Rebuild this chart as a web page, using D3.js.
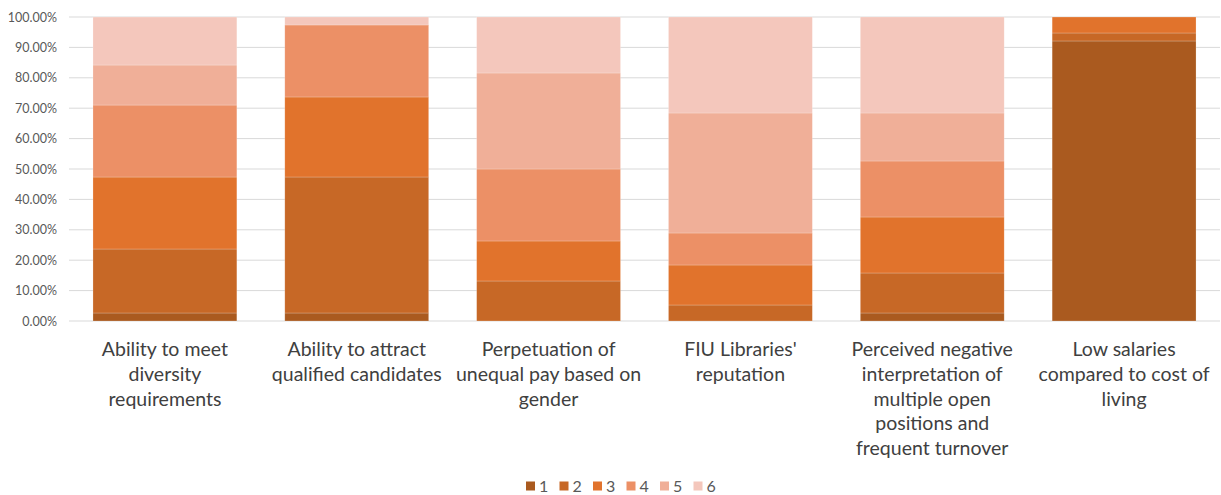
<!DOCTYPE html>
<html>
<head>
<meta charset="utf-8">
<script src="https://cdn.jsdelivr.net/npm/d3@7"></script>
<style>
  html, body { margin: 0; padding: 0; background: #fff; }
  svg { display: block; }
</style>
</head>
<body>
<svg id="chart" width="1221" height="495"></svg>
<script>
// Survey factors (x-axis), each label split into its display lines
const categories = [
  "Ability to meet diversity requirements",
  "Ability to attract qualified candidates",
  "Perpetuation of unequal pay based on gender",
  "FIU Libraries' reputation",
  "Perceived negative interpretation of multiple open positions and frequent turnover",
  "Low salaries compared to cost of living"
];
const categoryLines = [
  ["Ability to meet", "diversity", "requirements"],
  ["Ability to attract", "qualified candidates"],
  ["Perpetuation of", "unequal pay based on", "gender"],
  ["FIU Libraries'", "reputation"],
  ["Perceived negative", "interpretation of", "multiple open", "positions and", "frequent turnover"],
  ["Low salaries", "compared to cost of", "living"]
];

// Share of responses (%) for each rank, one array per rank
const seriesKeys = ["1", "2", "3", "4", "5", "6"];
const rank1 = [2.63, 2.63, 0, 0, 2.63, 92.11];
const rank2 = [21.05, 44.74, 13.16, 5.26, 13.16, 2.63];
const rank3 = [23.68, 26.32, 13.16, 13.16, 18.42, 5.26];
const rank4 = [23.68, 23.68, 23.68, 10.53, 18.42, 0];
const rank5 = [13.16, 0, 31.58, 39.47, 15.79, 0];
const rank6 = [15.79, 2.63, 18.42, 31.58, 31.58, 0];

const yTicks = [0, 10, 20, 30, 40, 50, 60, 70, 80, 90, 100];

const colors = ["#AA5A1F", "#C76826", "#E1732C", "#EC9066", "#F0AF98", "#F4C7BC"];

const seriesValues = [rank1, rank2, rank3, rank4, rank5, rank6];
const table = categories.map((c, i) => {
  const row = { category: c };
  seriesKeys.forEach((k, s) => { row[k] = seriesValues[s][i]; });
  return row;
});

const svg = d3.select("#chart");
const font = "Lato, 'Open Sans', sans-serif";

const x = d3.scaleBand()
  .domain(categories)
  .range([69, 1220])
  .paddingInner(0.25)
  .paddingOuter(0.125);

const y = d3.scaleLinear()
  .domain([0, 100])
  .range([321, 17]);

const color = d3.scaleOrdinal().domain(seriesKeys).range(colors);

// Horizontal gridlines
svg.append("g")
  .selectAll("line")
  .data(yTicks)
  .join("line")
  .attr("x1", 69)
  .attr("x2", 1220)
  .attr("y1", d => y(d))
  .attr("y2", d => y(d))
  .attr("stroke", "#D9D9D9")
  .attr("stroke-width", 1);

// Y axis labels
const yAxis = d3.axisLeft(y)
  .tickValues(yTicks)
  .tickSize(0)
  .tickPadding(0)
  .tickFormat(d => d.toFixed(2) + "%");
const yg = svg.append("g")
  .attr("transform", "translate(57,0)")
  .call(yAxis);
yg.select(".domain").remove();
yg.selectAll("text")
  .attr("fill", "#595959")
  .style("font-family", font)
  .style("font-size", "12.5px");

// Stacked bars
const stacked = d3.stack().keys(seriesKeys)(table);
svg.append("g")
  .selectAll("g")
  .data(stacked)
  .join("g")
  .attr("fill", d => color(d.key))
  .selectAll("rect")
  .data(d => d)
  .join("rect")
  .attr("x", d => x(d.data.category))
  .attr("width", x.bandwidth())
  .attr("y", d => y(d[1]))
  .attr("height", d => y(d[0]) - y(d[1]))
  .attr("stroke", "#fff")
  .attr("stroke-opacity", 0.35)
  .attr("stroke-width", 0.6);

// Category labels
const xg = svg.append("g");
categories.forEach((c, i) => {
  const t = xg.append("text")
    .attr("x", x(c) + x.bandwidth() / 2)
    .attr("y", 356)
    .attr("text-anchor", "middle")
    .attr("fill", "#404040")
    .style("font-family", font)
    .style("font-size", "19.5px");
  categoryLines[i].forEach((line, j) => {
    t.append("tspan")
      .attr("x", x(c) + x.bandwidth() / 2)
      .attr("dy", j === 0 ? 0 : 24.8)
      .text(line);
  });
});

// Legend
const legend = svg.append("g");
seriesKeys.forEach((k, i) => {
  const lx = 526 + i * 33.5;
  legend.append("rect")
    .attr("x", lx)
    .attr("y", 481.5)
    .attr("width", 9)
    .attr("height", 9)
    .attr("fill", color(k));
  legend.append("text")
    .attr("x", lx + 13)
    .attr("y", 492)
    .attr("fill", "#595959")
    .style("font-family", font)
    .style("font-size", "16px")
    .text(k);
});
</script>
</body>
</html>
